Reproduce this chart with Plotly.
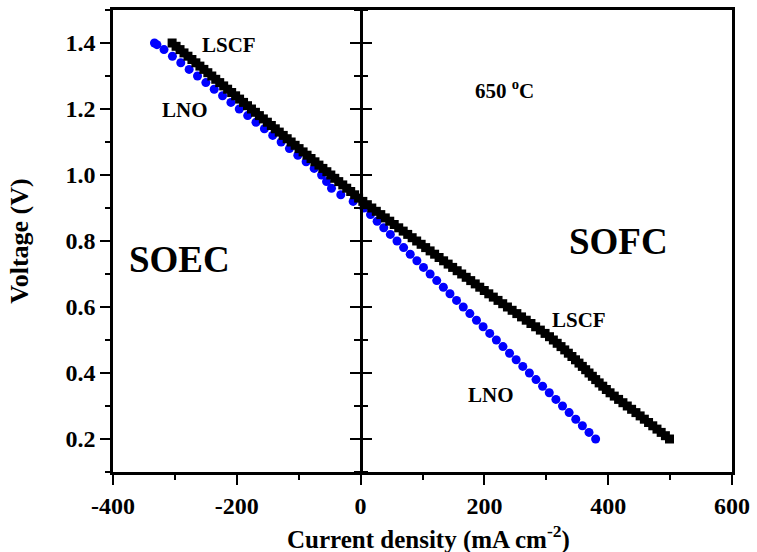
import plotly.graph_objects as go

# ---- data ----
lscf_current = [
    -304.5, -298.1, -291.7, -285.3, -278.9, -272.5, -266.1, -259.6, -253.2, -246.8,
    -240.4, -234.0, -227.6, -221.2, -214.8, -208.3, -201.9, -195.5, -189.1, -182.7,
    -176.3, -169.9, -163.5, -157.1, -150.6, -144.2, -137.8, -131.4, -125.0, -118.6,
    -112.2, -105.8, -99.4, -92.9, -86.5, -80.1, -73.7, -67.3, -60.9, -54.5,
    -48.1, -41.7, -35.3, -28.8, -22.4, -16.0, -9.6, -3.2,
    3.6, 10.9, 18.1, 25.4, 32.6, 39.9, 47.1, 54.3, 61.6, 68.8,
    76.1, 83.3, 90.6, 97.8, 105.1, 112.3, 119.6, 126.8, 134.1, 141.4,
    148.7, 156.0, 163.3, 170.6, 177.9, 185.2, 192.5, 199.8, 207.1, 214.4,
    222.0, 229.6, 237.2, 244.8, 252.4, 260.0, 267.6, 275.2, 282.8, 290.4,
    298.0, 305.2, 311.4, 317.6, 323.8, 329.8, 335.6, 341.4, 347.2, 352.8,
    358.2, 363.6, 369.0, 374.4, 379.8, 385.4, 391.2, 397.0, 403.0, 409.8,
    416.8, 423.8, 430.8, 437.8, 444.8, 451.6, 458.4, 465.2, 472.0, 478.8,
    485.6, 492.4, 499.0,
]
lscf_voltage = [
    1.40, 1.39, 1.38, 1.37, 1.36, 1.35, 1.34, 1.33, 1.32, 1.31,
    1.30, 1.29, 1.28, 1.27, 1.26, 1.25, 1.24, 1.23, 1.22, 1.21,
    1.20, 1.19, 1.18, 1.17, 1.16, 1.15, 1.14, 1.13, 1.12, 1.11,
    1.10, 1.09, 1.08, 1.07, 1.06, 1.05, 1.04, 1.03, 1.02, 1.01,
    1.00, 0.99, 0.98, 0.97, 0.96, 0.95, 0.94, 0.93,
    0.92, 0.91, 0.90, 0.89, 0.88, 0.87, 0.86, 0.85, 0.84, 0.83,
    0.82, 0.81, 0.80, 0.79, 0.78, 0.77, 0.76, 0.75, 0.74, 0.73,
    0.72, 0.71, 0.70, 0.69, 0.68, 0.67, 0.66, 0.65, 0.64, 0.63,
    0.62, 0.61, 0.60, 0.59, 0.58, 0.57, 0.56, 0.55, 0.54, 0.53,
    0.52, 0.51, 0.50, 0.49, 0.48, 0.47, 0.46, 0.45, 0.44, 0.43,
    0.42, 0.41, 0.40, 0.39, 0.38, 0.37, 0.36, 0.35, 0.34, 0.33,
    0.32, 0.31, 0.30, 0.29, 0.28, 0.27, 0.26, 0.25, 0.24, 0.23,
    0.22, 0.21, 0.20,
]

lno_current = [
    -333.0, -329.0, -317.6, -304.0, -290.5, -277.0, -263.5, -250.0, -236.5, -223.0,
    -209.5, -196.0, -182.4, -169.0, -155.4, -142.0, -128.4, -115.0, -101.4, -88.0,
    -75.0, -63.0, -55.0, -47.0, -32.0, -12.0,
    5.3, 16.0, 26.7, 37.4, 48.1, 58.8, 69.5, 80.2, 90.9, 101.6,
    112.3, 123.0, 133.7, 144.4, 155.0, 165.8, 176.5, 187.2, 197.9, 208.6,
    219.3, 230.0, 240.6, 251.3, 262.0, 272.7, 283.4, 294.0, 304.8, 315.5,
    326.2, 336.9, 347.6, 358.3, 369.0, 379.7,
]
lno_voltage = [
    1.40, 1.395, 1.38, 1.36, 1.34, 1.32, 1.30, 1.28, 1.26, 1.24,
    1.22, 1.20, 1.18, 1.16, 1.14, 1.12, 1.10, 1.08, 1.06, 1.04,
    1.02, 1.00, 0.98, 0.96, 0.94, 0.92,
    0.90, 0.88, 0.86, 0.84, 0.82, 0.80, 0.78, 0.76, 0.74, 0.72,
    0.70, 0.68, 0.66, 0.64, 0.62, 0.60, 0.58, 0.56, 0.54, 0.52,
    0.50, 0.48, 0.46, 0.44, 0.42, 0.40, 0.38, 0.36, 0.34, 0.32,
    0.30, 0.28, 0.26, 0.24, 0.22, 0.20,
]

x_tickvals = [-400, -200, 0, 200, 400, 600]
y_tickvals = [0.2, 0.4, 0.6, 0.8, 1.0, 1.2, 1.4]
y_ticklabels = ["0.2", "0.4", "0.6", "0.8", "1.0", "1.2", "1.4"]

FONT = "Liberation Serif"
tickfont = dict(family=FONT, size=24, color="black", weight="bold")

fig = go.Figure()
fig.add_trace(go.Scatter(
    x=lno_current, y=lno_voltage, mode="markers", name="LNO",
    marker=dict(symbol="circle", size=9, color="#0000ff", line=dict(width=0)),
))
fig.add_trace(go.Scatter(
    x=lscf_current, y=lscf_voltage, mode="markers", name="LSCF",
    marker=dict(symbol="square", size=9, color="black", line=dict(width=0)),
))

annots = [
    dict(text="LSCF", x=-212, y=1.393, size=21),
    dict(text="LNO", x=-283, y=1.198, size=21),
    dict(text="650 <sup>o</sup>C", x=232, y=1.26, size=21),
    dict(text="SOEC", x=-292, y=0.745, size=37),
    dict(text="SOFC", x=416, y=0.797, size=37),
    dict(text="LSCF", x=353, y=0.562, size=21),
    dict(text="LNO", x=210, y=0.333, size=21),
]
for a in annots:
    fig.add_annotation(x=a["x"], y=a["y"], text=a["text"], showarrow=False,
                       font=dict(family=FONT, size=a["size"], color="black", weight="bold"),
                       xref="x", yref="y")

# x-axis title (placed as a paper annotation to match the reference offset)
fig.add_annotation(x=0.51, y=-0.142, xref="paper", yref="paper",
                   xanchor="center", yanchor="middle", showarrow=False,
                   text="Current density (mA cm<sup>-2</sup>)",
                   font=dict(family=FONT, size=25, color="black", weight="bold"))

fig.update_layout(
    width=757, height=552,
    margin=dict(l=113, r=19, t=7, b=80),
    paper_bgcolor="white", plot_bgcolor="white",
    showlegend=False,
    xaxis=dict(
        range=[-400, 600], tickvals=x_tickvals, ticktext=[str(v) for v in x_tickvals],
        ticks="outside", ticklen=10, tickwidth=2, tickcolor="black",
        minor=dict(tickvals=[-300, -100, 100, 300, 500], ticklen=5, tickwidth=2,
                   tickcolor="black", ticks="outside"),
        showline=True, linewidth=2.5, linecolor="black", mirror=True,
        showgrid=False, zeroline=False, tickfont=tickfont,
    ),
    yaxis=dict(
        range=[0.1, 1.5], tickvals=y_tickvals, ticktext=y_ticklabels,
        ticks="outside", ticklen=10, tickwidth=2, tickcolor="black",
        minor=dict(dtick=0.1, tick0=0.1, ticklen=5, tickwidth=2, tickcolor="black", ticks="outside"),
        showline=True, linewidth=2.5, linecolor="black", mirror=True,
        showgrid=False, zeroline=False, tickfont=tickfont,
        title=dict(text="Voltage (V)",
                   font=dict(family=FONT, size=26, color="black", weight="bold"),
                   standoff=30),
    ),
    yaxis2=dict(
        range=[0.1, 1.5], overlaying="y", anchor="free", position=0.4, side="left",
        tickvals=y_tickvals, showticklabels=False,
        ticks="outside", ticklen=10, tickwidth=2, tickcolor="black",
        minor=dict(dtick=0.1, tick0=0.1, ticklen=6, tickwidth=2, tickcolor="black", ticks="outside"),
        showline=True, linewidth=2.5, linecolor="black",
        showgrid=False, zeroline=False,
    ),
    yaxis3=dict(
        range=[0.1, 1.5], overlaying="y", anchor="free", position=0.4, side="right",
        tickvals=y_tickvals, showticklabels=False,
        ticks="outside", ticklen=10, tickwidth=2, tickcolor="black",
        minor=dict(dtick=0.1, tick0=0.1, ticklen=6, tickwidth=2, tickcolor="black", ticks="outside"),
        showline=True, linewidth=2.5, linecolor="black",
        showgrid=False, zeroline=False,
    ),
)

# invisible traces to activate the overlaying middle axes
fig.add_trace(go.Scatter(x=[None], y=[None], yaxis="y2", showlegend=False, hoverinfo="skip"))
fig.add_trace(go.Scatter(x=[None], y=[None], yaxis="y3", showlegend=False, hoverinfo="skip"))

fig.write_html(
    "out.html",
    config={"displayModeBar": False},
    post_script="document.body.style.margin='0px';document.body.style.overflow='hidden';",
)
